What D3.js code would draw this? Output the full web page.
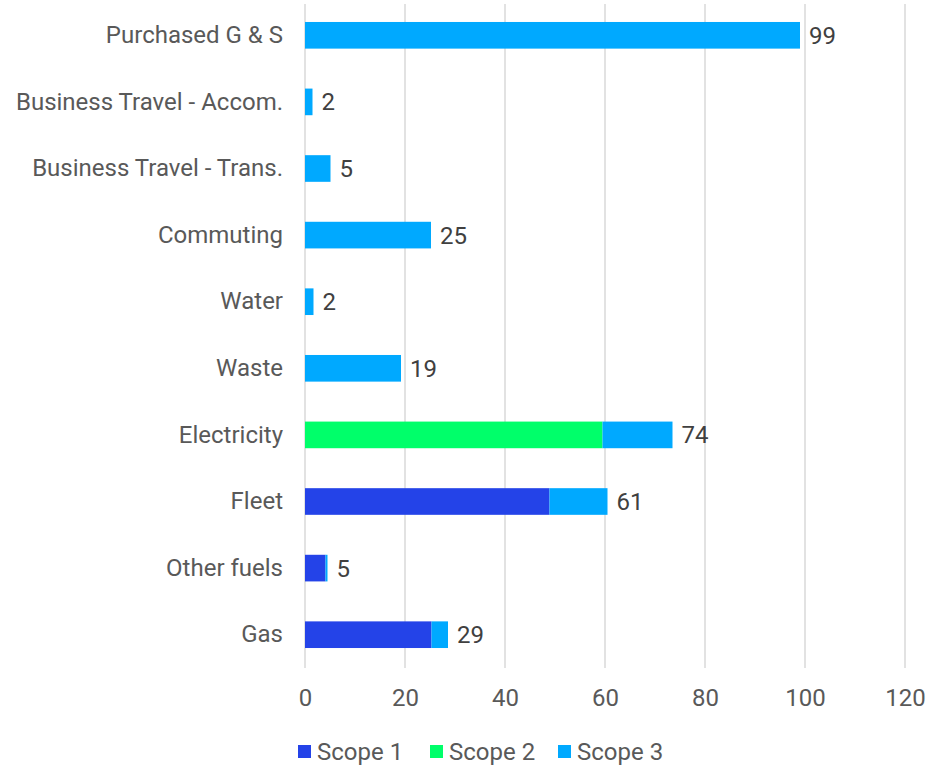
<!DOCTYPE html>
<html><head><meta charset="utf-8">
<script src="https://cdn.jsdelivr.net/npm/d3@7"></script>
<style>body{margin:0;background:#fff;} text{font-family:Roboto,"Noto Sans",sans-serif;}</style>
</head><body>
<svg id="c" width="941" height="766"></svg>
<script>
const categories = ["Purchased G & S","Business Travel - Accom.","Business Travel - Trans.","Commuting","Water","Waste","Electricity","Fleet","Other fuels","Gas"];
const scope1 = [0,0,0,0,0,0,0,48.9,4.1,25.3];
const scope2 = [0,0,0,0,0,0,59.5,0,0,0];
const scope3 = [99.0,1.5,5.1,25.2,1.7,19.2,14.0,11.6,0.4,3.3];
const totalLabels = ["99","2","5","25","2","19","74","61","5","29"];
const seriesNames = ["Scope 1","Scope 2","Scope 3"];
const xTicks = [0,20,40,60,80,100,120];
const colors = ["#2443E8","#00FF6A","#00A9FF"];

const svg = d3.select("#c");
const x = d3.scaleLinear().domain([0,120]).range([305,905]);
const y = d3.scaleBand().domain(categories).range([2,668]).paddingInner(0.6).paddingOuter(0.3);

// gridlines
svg.append("g").selectAll("line").data(xTicks).join("line")
  .attr("x1",d=>x(d)).attr("x2",d=>x(d)).attr("y1",4).attr("y2",668)
  .attr("stroke","#d9d9d9").attr("stroke-width",1.5);

const rows = categories.map((c,i)=>({cat:c,"Scope 1":scope1[i],"Scope 2":scope2[i],"Scope 3":scope3[i]}));
const stack = d3.stack().keys(seriesNames)(rows);
svg.append("g").selectAll("g").data(stack).join("g").attr("fill",(d,i)=>colors[i])
  .selectAll("rect").data(d=>d.filter(p=>p[1]-p[0]>0)).join("rect")
  .attr("x",d=>x(d[0])).attr("width",d=>x(d[1])-x(d[0]))
  .attr("y",d=>y(d.data.cat)).attr("height",y.bandwidth());

// value labels
svg.append("g").selectAll("text").data(rows).join("text")
  .attr("x",(d,i)=>x(scope1[i]+scope2[i]+scope3[i])+9)
  .attr("y",d=>y(d.cat)+y.bandwidth()/2).attr("dy","0.35em")
  .attr("font-size",24).attr("fill","#404040").text((d,i)=>totalLabels[i]);

// category labels
const ya = d3.axisLeft(y).tickSize(0).tickPadding(22);
const yg = svg.append("g").attr("transform","translate(305,0)").call(ya);
yg.select(".domain").remove();
yg.selectAll("text").attr("font-size",24).attr("fill","#595959").style("font-family","Roboto,'Noto Sans',sans-serif");

// x axis
const xa = d3.axisBottom(x).tickValues(xTicks).tickSize(0).tickPadding(21);
const xg = svg.append("g").attr("transform","translate(0,668)").call(xa);
xg.select(".domain").remove();
xg.selectAll("text").attr("font-size",24).attr("fill","#595959").style("font-family","Roboto,'Noto Sans',sans-serif");

// legend
const legX = [298,430,558];
const lg = svg.append("g").selectAll("g").data(seriesNames).join("g")
  .attr("transform",(d,i)=>`translate(${legX[i]},745)`);
lg.append("rect").attr("width",13).attr("height",13).attr("fill",(d,i)=>colors[i]);
lg.append("text").attr("x",19).attr("y",7).attr("dy","0.35em").attr("font-size",24).attr("fill","#595959").text(d=>d);
</script>
</body></html>
